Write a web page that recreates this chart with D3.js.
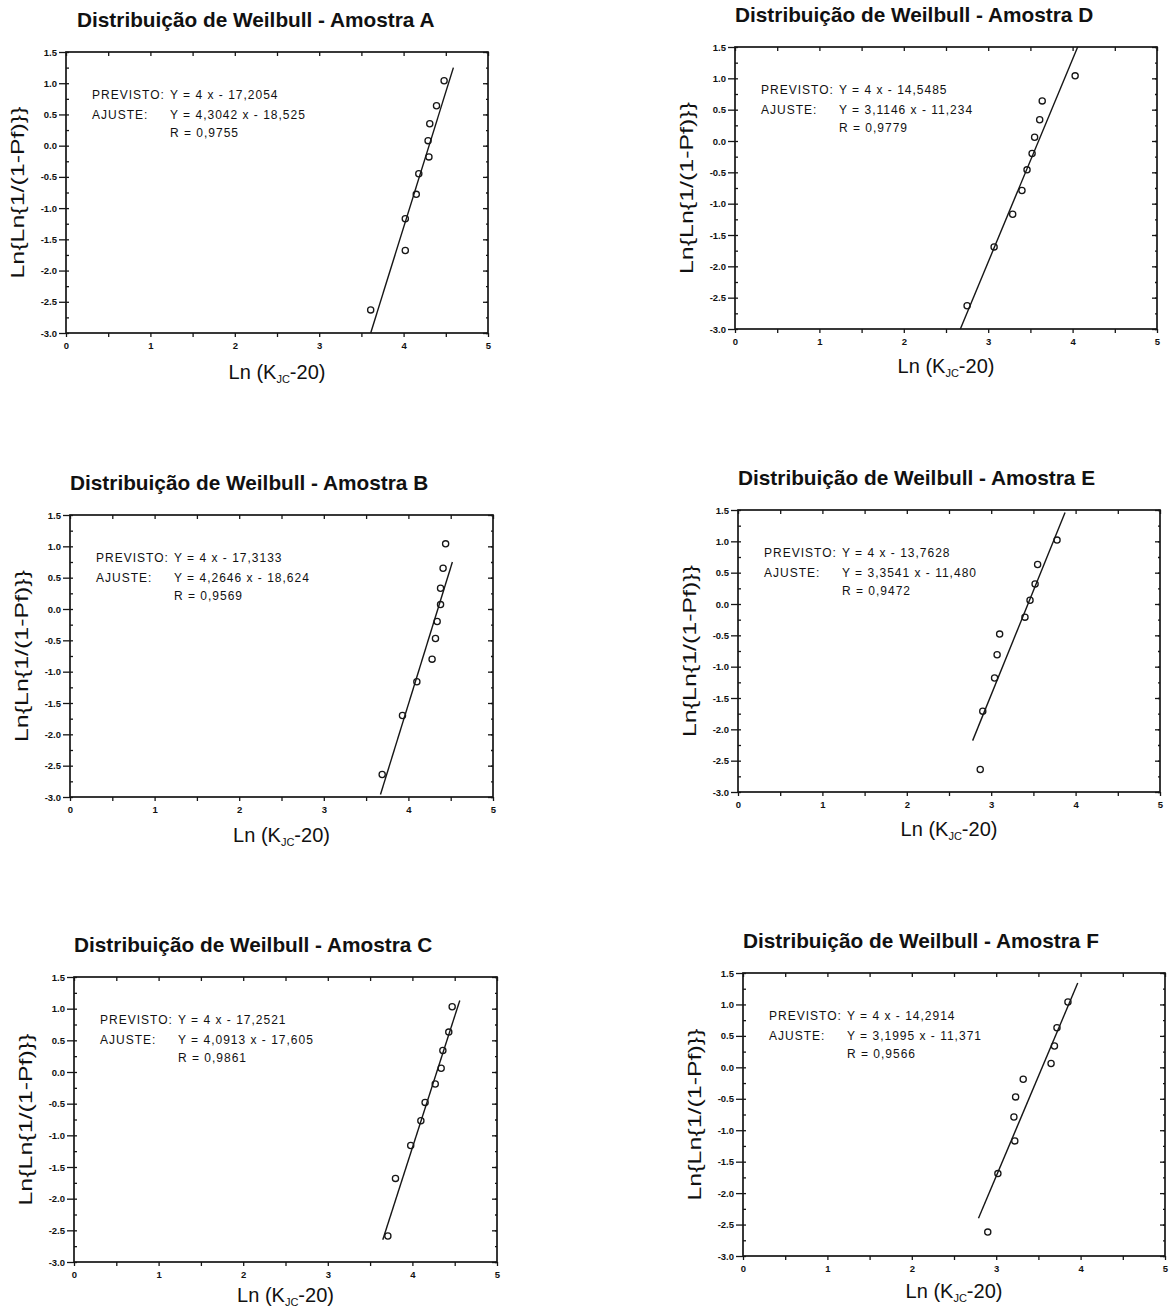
<!DOCTYPE html>
<html>
<head>
<meta charset="utf-8">
<script src="https://cdn.jsdelivr.net/npm/d3@7"></script>
<style>
  html, body { margin: 0; padding: 0; background: #ffffff; }
  svg { display: block; }
  text { font-family: "Liberation Sans", Arial, sans-serif; fill: #111; }
</style>
</head>
<body>
<svg id="chart" width="1170" height="1314"></svg>
<script>
// ---------------- DATA ----------------
const samples = ["A", "D", "B", "E", "C", "F"];
const titlePrefix = "Distribuição de Weilbull - Amostra ";
const xTickValues = [0, 1, 2, 3, 4, 5];
const yTickValues = [1.5, 1.0, 0.5, 0.0, -0.5, -1.0, -1.5, -2.0, -2.5, -3.0];
const xLabelMain = "Ln (K";
const xLabelSub = "JC";
const xLabelEnd = "-20)";
const yLabel = "Ln{Ln{1/(1-Pf)}}";

// points: x = Ln(KJC-20), y = Ln{Ln{1/(1-Pf)}}
const xA = [3.61, 4.02, 4.02, 4.15, 4.18, 4.30, 4.29, 4.31, 4.39, 4.48];
const yA = [-2.63, -1.68, -1.17, -0.78, -0.45, -0.18, 0.08, 0.35, 0.64, 1.04];
const xB = [3.69, 3.93, 4.10, 4.28, 4.32, 4.34, 4.38, 4.38, 4.41, 4.44];
const yB = [-2.64, -1.70, -1.16, -0.80, -0.47, -0.20, 0.07, 0.33, 0.65, 1.04];
const xC = [3.71, 3.80, 3.98, 4.10, 4.15, 4.27, 4.34, 4.36, 4.43, 4.47];
const yC = [-2.59, -1.68, -1.16, -0.77, -0.48, -0.19, 0.06, 0.34, 0.63, 1.03];
const xD = [2.75, 3.07, 3.29, 3.40, 3.46, 3.52, 3.55, 3.61, 3.64, 4.03];
const yD = [-2.63, -1.69, -1.17, -0.79, -0.46, -0.20, 0.06, 0.34, 0.64, 1.04];
const xE = [2.87, 2.90, 3.04, 3.07, 3.10, 3.40, 3.46, 3.52, 3.55, 3.78];
const yE = [-2.64, -1.71, -1.18, -0.81, -0.48, -0.21, 0.06, 0.32, 0.63, 1.02];
const xF = [2.90, 3.02, 3.22, 3.21, 3.23, 3.32, 3.65, 3.69, 3.72, 3.85];
const yF = [-2.62, -1.69, -1.17, -0.79, -0.47, -0.19, 0.06, 0.34, 0.63, 1.04];

// fitted line end points
const lineAx = [3.61, 4.59], lineAy = [-3.0, 1.25];
const lineBx = [3.67, 4.52], lineBy = [-2.96, 0.75];
const lineCx = [3.65, 4.56], lineCy = [-2.65, 1.13];
const lineDx = [2.67, 4.06], lineDy = [-3.0, 1.50];
const lineEx = [2.78, 3.875], lineEy = [-2.18, 1.46];
const lineFx = [2.79, 3.966], lineFy = [-2.40, 1.34];

// annotation texts
const previsto = ["Y = 4 x - 17,2054", "Y = 4 x - 14,5485", "Y = 4 x - 17,3133", "Y = 4 x - 13,7628", "Y = 4 x - 17,2521", "Y = 4 x - 14,2914"];
const ajuste   = ["Y = 4,3042 x - 18,525", "Y = 3,1146 x - 11,234", "Y = 4,2646 x - 18,624", "Y = 3,3541 x - 11,480", "Y = 4,0913 x - 17,605", "Y = 3,1995 x - 11,371"];
const rValues  = ["R = 0,9755", "R = 0,9779", "R = 0,9569", "R = 0,9472", "R = 0,9861", "R = 0,9566"];

const pointsX = [xA, xD, xB, xE, xC, xF];
const pointsY = [yA, yD, yB, yE, yC, yF];
const linesX = [lineAx, lineDx, lineBx, lineEx, lineCx, lineFx];
const linesY = [lineAy, lineDy, lineBy, lineEy, lineCy, lineFy];

// ---------------- LAYOUT ----------------
const frames = [
  { l: 66,  r: 488,  t: 52,  b: 333,  tdx: 11, xl: 46 },
  { l: 735, r: 1157, t: 47,  b: 329,  tdx: 0,  xl: 44 },
  { l: 70,  r: 493,  t: 515, b: 797,  tdx: 0,  xl: 45 },
  { l: 738, r: 1160, t: 510, b: 792,  tdx: 0,  xl: 44 },
  { l: 74,  r: 497,  t: 977, b: 1262, tdx: 0,  xl: 40 },
  { l: 743, r: 1165, t: 973, b: 1256, tdx: 0,  xl: 42 }
];

const ink = "#161616";
const svg = d3.select("#chart");
const fmtY = v => d3.format(".1f")(v).replace("−", "-");
const xMinor = d3.range(0, 5.0001, 0.5);
const yMinor = d3.range(-3.0, 1.5001, 0.25);

samples.forEach((s, i) => {
  const f = frames[i];
  const x = d3.scaleLinear().domain([0, 5]).range([f.l, f.r]);
  const y = d3.scaleLinear().domain([-3, 1.5]).range([f.b, f.t]);
  const g = svg.append("g");

  // title
  g.append("text")
    .attr("x", f.l + f.tdx).attr("y", f.t - 25)
    .attr("font-size", 20.8).attr("font-weight", "bold")
    .text(titlePrefix + s);

  // left axis with labels (outward major ticks)
  g.append("g").attr("transform", `translate(${f.l},0)`)
    .call(d3.axisLeft(y).tickValues(yTickValues).tickSize(7).tickPadding(2).tickFormat(fmtY));
  // left minor inward ticks
  g.append("g").attr("transform", `translate(${f.l},0)`)
    .call(d3.axisRight(y).tickValues(yMinor).tickSize(3).tickFormat(""));
  // right axis inward ticks
  g.append("g").attr("transform", `translate(${f.r},0)`)
    .call(d3.axisLeft(y).tickValues(yTickValues).tickSize(5).tickFormat(""));
  g.append("g").attr("transform", `translate(${f.r},0)`)
    .call(d3.axisLeft(y).tickValues(yMinor).tickSize(2).tickFormat(""));
  // bottom axis
  g.append("g").attr("transform", `translate(0,${f.b})`)
    .call(d3.axisBottom(x).tickValues(xMinor).tickSize(4).tickPadding(5)
      .tickFormat(v => xTickValues.includes(v) ? String(v) : ""));
  // top axis inward ticks
  g.append("g").attr("transform", `translate(0,${f.t})`)
    .call(d3.axisBottom(x).tickValues(xMinor).tickSize(4).tickFormat(""));

  g.selectAll(".domain").remove();
  g.selectAll(".tick line").attr("stroke", ink).attr("stroke-width", 1.3);
  g.selectAll(".tick text").attr("fill", ink).attr("font-size", 9.5).attr("font-weight", "bold")
    .attr("font-family", "'Liberation Sans', Arial, sans-serif");

  // frame
  g.append("rect")
    .attr("x", f.l).attr("y", f.t)
    .attr("width", f.r - f.l).attr("height", f.b - f.t)
    .attr("fill", "none").attr("stroke", ink).attr("stroke-width", 1.7);

  // fitted line
  const lineData = linesX[i].map((vx, k) => [vx, linesY[i][k]]);
  g.append("path")
    .datum(lineData)
    .attr("d", d3.line().x(d => x(d[0])).y(d => y(d[1])))
    .attr("fill", "none").attr("stroke", ink).attr("stroke-width", 1.4);

  // points
  const pts = pointsX[i].map((vx, k) => [vx, pointsY[i][k]]);
  g.selectAll("circle.pt").data(pts).enter().append("circle")
    .attr("class", "pt")
    .attr("cx", d => x(d[0])).attr("cy", d => y(d[1]))
    .attr("r", 3.1)
    .attr("fill", "none").attr("stroke", ink).attr("stroke-width", 1.3);

  // annotations
  const ann = g.append("g").attr("font-size", 12).attr("letter-spacing", 1);
  ann.append("text").attr("x", f.l + 26).attr("y", f.t + 47).text("PREVISTO:");
  ann.append("text").attr("x", f.l + 104).attr("y", f.t + 47).text(previsto[i]);
  ann.append("text").attr("x", f.l + 26).attr("y", f.t + 67).text("AJUSTE:");
  ann.append("text").attr("x", f.l + 104).attr("y", f.t + 67).text(ajuste[i]);
  ann.append("text").attr("x", f.l + 104).attr("y", f.t + 85).text(rValues[i]);

  // x axis label
  const xl = g.append("text")
    .attr("x", (f.l + f.r) / 2).attr("y", f.b + f.xl)
    .attr("text-anchor", "middle")
    .attr("font-family", "'Liberation Sans Narrow', 'Liberation Sans', Arial, sans-serif")
    .attr("font-size", 20);
  xl.append("tspan").text(xLabelMain);
  xl.append("tspan").attr("font-size", 11).attr("dy", 4).text(xLabelSub);
  xl.append("tspan").attr("dy", -4).text(xLabelEnd);

  // y axis label
  g.append("text")
    .attr("transform", `translate(${f.l - 42},${(f.t + f.b) / 2}) rotate(-90)`)
    .attr("text-anchor", "middle")
    .attr("font-size", 19)
    .attr("textLength", 172).attr("lengthAdjust", "spacingAndGlyphs")
    .text(yLabel);
});
</script>
</body>
</html>
